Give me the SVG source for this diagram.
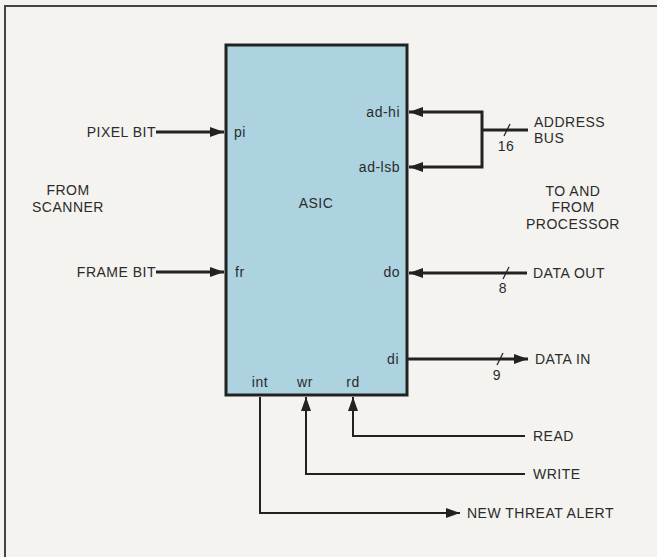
<svg xmlns="http://www.w3.org/2000/svg" width="657" height="557" viewBox="0 0 657 557">
<defs>
<style>
.t{font-family:"Liberation Sans",Arial,sans-serif;font-size:14px;fill:#2b2b2b;letter-spacing:0.5px}
.w{stroke:#222;fill:none;stroke-width:3}
.n{stroke:#222;fill:none;stroke-width:2}
.s{stroke:#222;fill:none;stroke-width:1.3}
</style>
<marker id="ah" markerUnits="userSpaceOnUse" markerWidth="14" markerHeight="10" refX="14" refY="5" orient="auto">
<path d="M0,0 L14,5 L0,10 z" fill="#222"/>
</marker>
</defs>
<rect width="657" height="557" fill="#f4f3ef"/>
<path d="M5,557 V6 H657" fill="none" stroke="#444" stroke-width="2"/>

<g id="asic">
<rect x="226" y="45" width="181" height="350" fill="#acd3df" stroke="#222" stroke-width="3"/>
<text class="t" x="316" y="208" text-anchor="middle">ASIC</text>
<text class="t" x="234" y="137">pi</text>
<text class="t" x="235" y="277">fr</text>
<text class="t" x="400" y="117" text-anchor="end">ad-hi</text>
<text class="t" x="400" y="172" text-anchor="end">ad-lsb</text>
<text class="t" x="400" y="277" text-anchor="end">do</text>
<text class="t" x="399" y="364" text-anchor="end">di</text>
<text class="t" x="260" y="387" text-anchor="middle">int</text>
<text class="t" x="305" y="387" text-anchor="middle">wr</text>
<text class="t" x="353" y="387" text-anchor="middle">rd</text>
</g>

<g id="scanner">
<text class="t" x="156" y="137" text-anchor="end">PIXEL BIT</text>
<text class="t" x="156" y="277" text-anchor="end">FRAME BIT</text>
<text class="t" x="68" y="195" text-anchor="middle">FROM</text>
<text class="t" x="68" y="212" text-anchor="middle">SCANNER</text>
</g>

<g id="processor">
<text class="t" x="534" y="127">ADDRESS</text>
<text class="t" x="534" y="143">BUS</text>
<text class="t" x="573" y="196" text-anchor="middle">TO AND</text>
<text class="t" x="573" y="212" text-anchor="middle">FROM</text>
<text class="t" x="573" y="229" text-anchor="middle">PROCESSOR</text>
<text class="t" x="533" y="278">DATA OUT</text>
<text class="t" x="535" y="364">DATA IN</text>
<text class="t" x="533" y="441">READ</text>
<text class="t" x="533" y="479">WRITE</text>
<text class="t" x="467" y="518">NEW THREAT ALERT</text>
</g>

<g id="connectors">
<path class="w" d="M156,132 H224" marker-end="url(#ah)"/>
<path class="w" d="M156,272 H224" marker-end="url(#ah)"/>
<path class="w" d="M528,130 H482"/>
<path class="w" d="M482,130 V112 H409" marker-end="url(#ah)"/>
<path class="w" d="M482,130 V167 H409" marker-end="url(#ah)"/>
<path class="s" d="M504,136 L510,124"/>
<text class="t" x="506" y="151" text-anchor="middle">16</text>
<path class="w" d="M527,273 H409" marker-end="url(#ah)"/>
<path class="s" d="M503,279 L509,267"/>
<text class="t" x="503" y="293" text-anchor="middle">8</text>
<path class="w" d="M408,359 H528" marker-end="url(#ah)"/>
<path class="s" d="M497,365 L503,353"/>
<text class="t" x="497" y="380" text-anchor="middle">9</text>
<path class="n" d="M525,436 H353 V397" marker-end="url(#ah)"/>
<path class="n" d="M525,474 H306 V397" marker-end="url(#ah)"/>
<path class="n" d="M260,397 V513 H460" marker-end="url(#ah)"/>
</g>
</svg>
